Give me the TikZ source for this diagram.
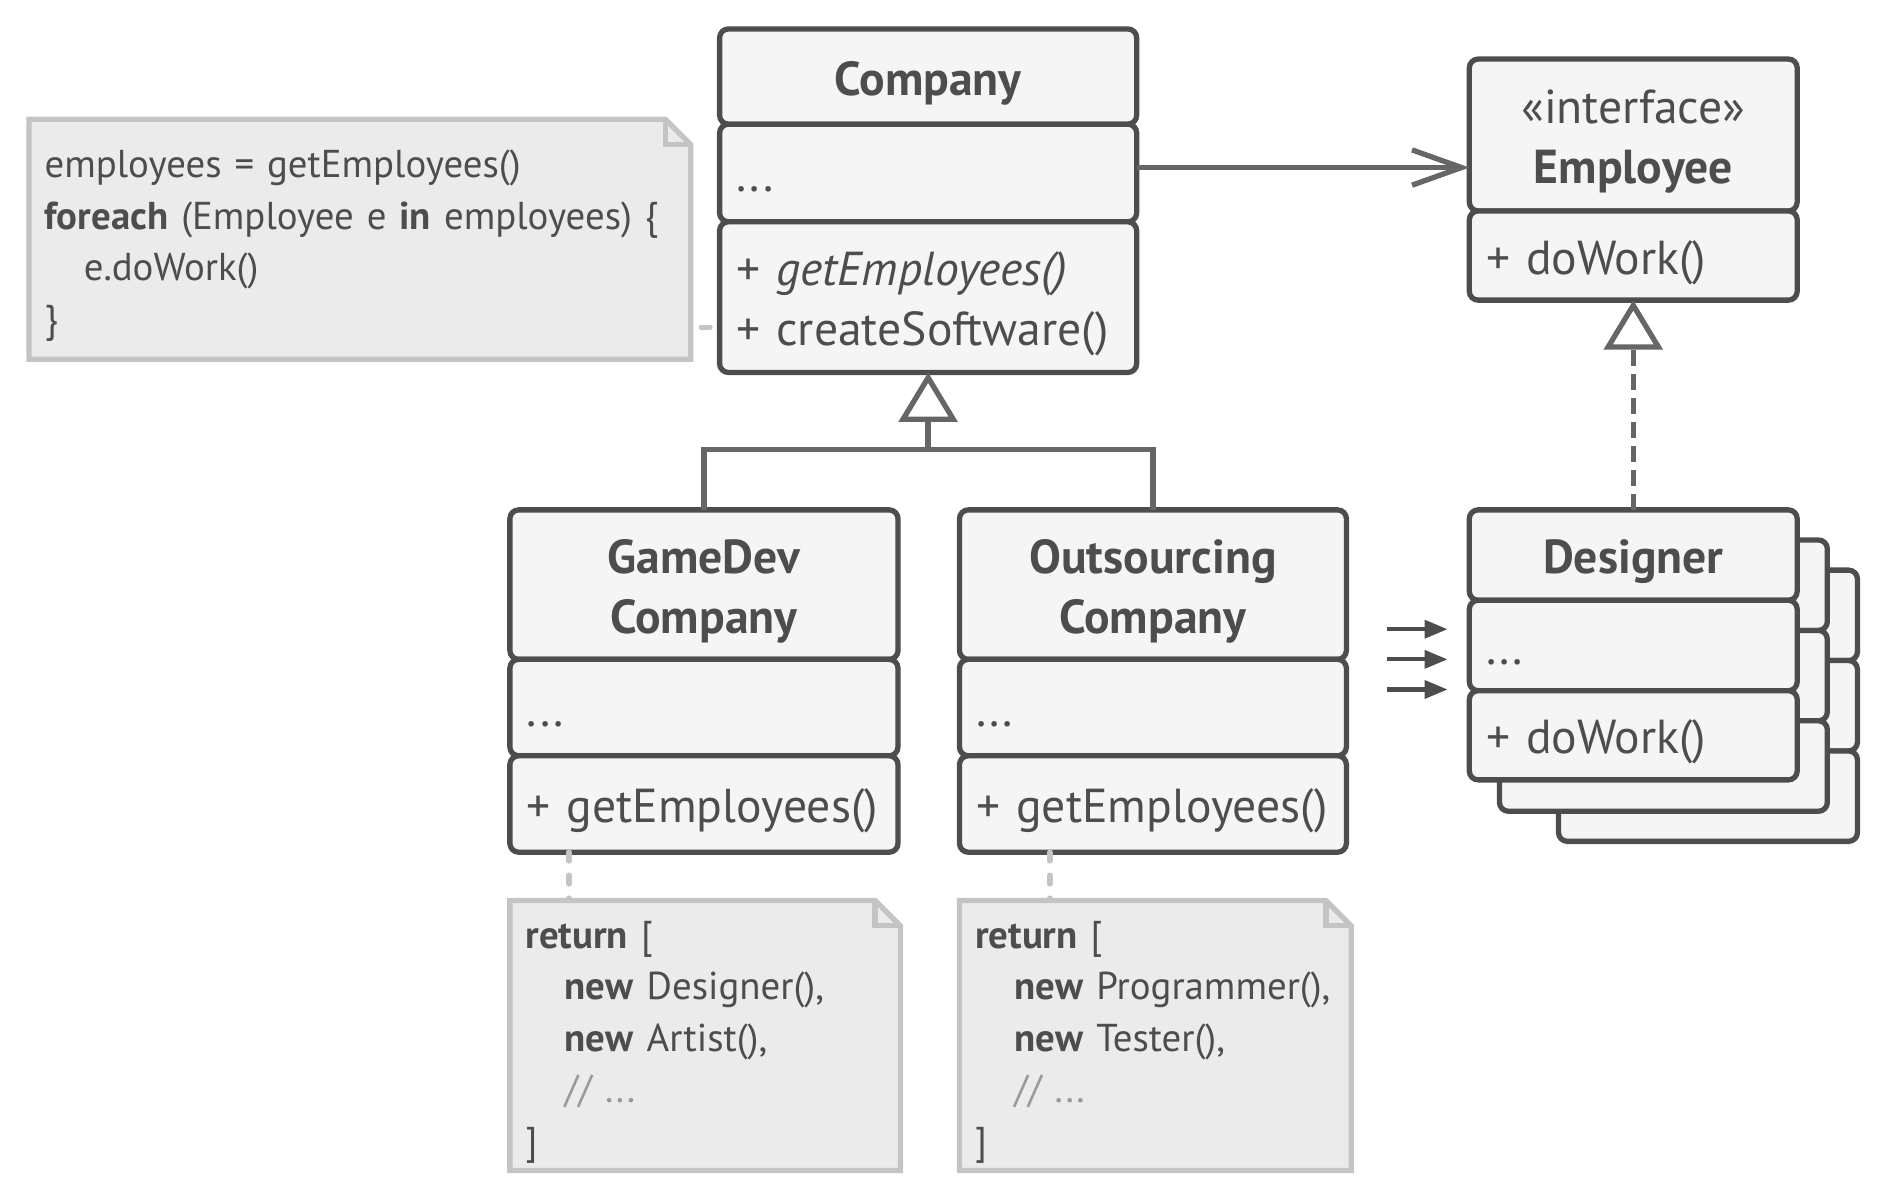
\documentclass[tikz,border=0pt]{standalone}
\usepackage{fontspec}
\setmainfont{PT Sans}
\usepackage{xcolor}
\definecolor{rand}{HTML}{4D4D4D}
\definecolor{linie}{HTML}{666666}
\definecolor{fuell}{HTML}{F5F5F5}
\definecolor{notizfuell}{HTML}{EBEBEB}
\definecolor{notizrand}{HTML}{C4C4C4}
\definecolor{kommentar}{HTML}{999999}
\usepackage{tikz}
\usetikzlibrary{arrows.meta, positioning, backgrounds}
\newlength{\px}
\setlength{\px}{0.12mm}
\newcommand{\kfont}{\fontsize{13.5}{17}\selectfont}
\newcommand{\nfont}{\fontsize{11}{14.6}\selectfont}

\begin{document}
\begin{tikzpicture}[x=\px, y=-\px,
	fach/.style={rectangle, draw=rand, fill=fuell, line width=1.5pt, rounded corners=2.5pt,
	             outer sep=0pt, inner xsep=14\px, inner ysep=0pt, text=rand, font=\kfont,
	             execute at begin node=\rule{0pt}{14pt}, execute at end node=\rule[-3.5pt]{0pt}{3.5pt}},
	titel/.style={fach, align=center, font=\kfont\bfseries},
	inhalt/.style={fach, align=left},
	kasten/.style={draw=rand, fill=fuell, line width=1.5pt, rounded corners=2.5pt},
	notiz/.style={rectangle, align=left, inner xsep=13\px, inner ysep=0pt, outer sep=0pt,
	              text=rand, font=\nfont, anchor=north west,
	              execute at begin node=\rule{0pt}{12pt}, execute at end node=\rule[-3pt]{0pt}{3pt}},
	notizrand/.style={draw=notizrand, fill=notizfuell, line width=1.5pt},
	notizlinie/.style={draw=notizrand, line width=1.5pt, line cap=round, dash pattern=on 2.5pt off 4pt},
	verbind/.style={draw=linie, line width=1.5pt},
	assoz/.style={verbind, -{Straight Barb[length=14pt, width=10pt]}},
	erbt/.style={verbind, -{Triangle[open, fill=white, length=14pt, width=16.5pt]}},
	impl/.style={erbt, dash pattern=on 4.4pt off 2.4pt},
	zeiger/.style={draw=rand, line width=1.2pt, -{Triangle[length=6.5pt, width=5pt]}}
	]
\useasboundingbox (0,0) rectangle (1568,996);

% Klasse Company
\node[titel, anchor=north west, text width=318\px, minimum height=79\px] (c1) at (597,24) {Company};
\node[inhalt, text width=318\px, minimum height=81\px, below=0pt of c1] (c2) {...};
\node[inhalt, text width=318\px, minimum height=125\px, below=0pt of c2] (c3)
	{+ \textit{getEmployees()}\\+ createSoftware()};

% Interface Employee
\node[titel, font=\kfont, anchor=north west, text width=244\px, minimum height=126\px] (e1) at (1219,49)
	{«interface»\\\textbf{Employee}};
\node[inhalt, text width=244\px, minimum height=74\px, below=0pt of e1] (e2) {+ doWork()};

% Unterklassen
\node[titel, anchor=north west, text width=294\px, minimum height=124\px] (g1) at (423,423) {GameDev\\Company};
\node[inhalt, text width=294\px, minimum height=80\px, below=0pt of g1] (g2) {...};
\node[inhalt, text width=294\px, minimum height=80\px, below=0pt of g2] (g3) {+ getEmployees()};

\node[titel, anchor=north west, text width=293\px, minimum height=124\px] (o1) at (796,423) {Outsourcing\\Company};
\node[inhalt, text width=293\px, minimum height=80\px, below=0pt of o1] (o2) {...};
\node[inhalt, text width=293\px, minimum height=80\px, below=0pt of o2] (o3) {+ getEmployees()};

% Stapel hinter Designer
\foreach \sx/\sy/\sw in {1293/473/248, 1244/448/272}
	\foreach \k in {0,1,2}
		\draw[kasten] (\sx,\sy+\k*75) rectangle ++(\sw,75);

% Klasse Designer
\node[titel, anchor=north west, text width=244\px, minimum height=75\px] (d1) at (1219,423) {Designer};
\node[inhalt, text width=244\px, minimum height=75\px, below=0pt of d1] (d2) {...};
\node[inhalt, text width=244\px, minimum height=74\px, below=0pt of d2] (d3) {+ doWork()};

% Notizen
\node[notiz, text width=523\px, minimum height=199\px] (n1) at (24,99) {%
	employees = getEmployees()\\
	\textbf{foreach} (Employee e \textbf{in} employees) \{\\
	\hspace*{3.9mm}e.doWork()\\
	\}};
\node[notiz, text width=298\px, minimum height=224\px] (n2) at (423,747) {%
	\textbf{return} [\\
	\hspace*{3.9mm}\textbf{new} Designer(),\\
	\hspace*{3.9mm}\textbf{new} Artist(),\\
	\hspace*{3.9mm}{\color{kommentar}// ...}\\
	]};
\node[notiz, text width=299\px, minimum height=224\px] (n3) at (796,747) {%
	\textbf{return} [\\
	\hspace*{3.9mm}\textbf{new} Programmer(),\\
	\hspace*{3.9mm}\textbf{new} Tester(),\\
	\hspace*{3.9mm}{\color{kommentar}// ...}\\
	]};
\begin{scope}[on background layer]
	\foreach \n in {n1,n2,n3} {
		\draw[notizrand] (\n.north west) -- ([xshift=-21\px]\n.north east) -- ([yshift=-21\px]\n.north east)
			-- (\n.south east) -- (\n.south west) -- cycle;
		\draw[notizrand, fill=none] ([xshift=-21\px]\n.north east) |- ([yshift=-21\px]\n.north east);
	}
\end{scope}
\draw[notizlinie, dash pattern=on 2.5pt off 3pt, dash phase=2.5pt]
	([yshift=-25\px]c3.west -| n1.east) -- ([yshift=-25\px]c3.west);
\draw[notizlinie] ([xshift=49\px]g3.south west) -- ([xshift=49\px]n2.north west);
\draw[notizlinie] ([xshift=75\px]o3.south west) -- ([xshift=75\px]n3.north west);

% Beziehungen
\draw[assoz] ([yshift=4.5\px]c2.east) -- ([yshift=4.5\px]c2.east -| e1.west);
\coordinate (gabel) at (770,373);
\draw[verbind] (g1.north) |- (gabel) -| (o1.north);
\draw[erbt] (gabel) -- (c3.south);
\draw[impl] (d1.north) -- (e2.south);

% Pfeile zu Designer
\foreach \i/\yy in {1/522, 2/547, 3/572} {
	\coordinate (pa\i) at (1151,\yy);
	\coordinate (pe\i) at (1201,\yy);
	\draw[zeiger] (pa\i) -- (pe\i);
}

\end{tikzpicture}
\end{document}
